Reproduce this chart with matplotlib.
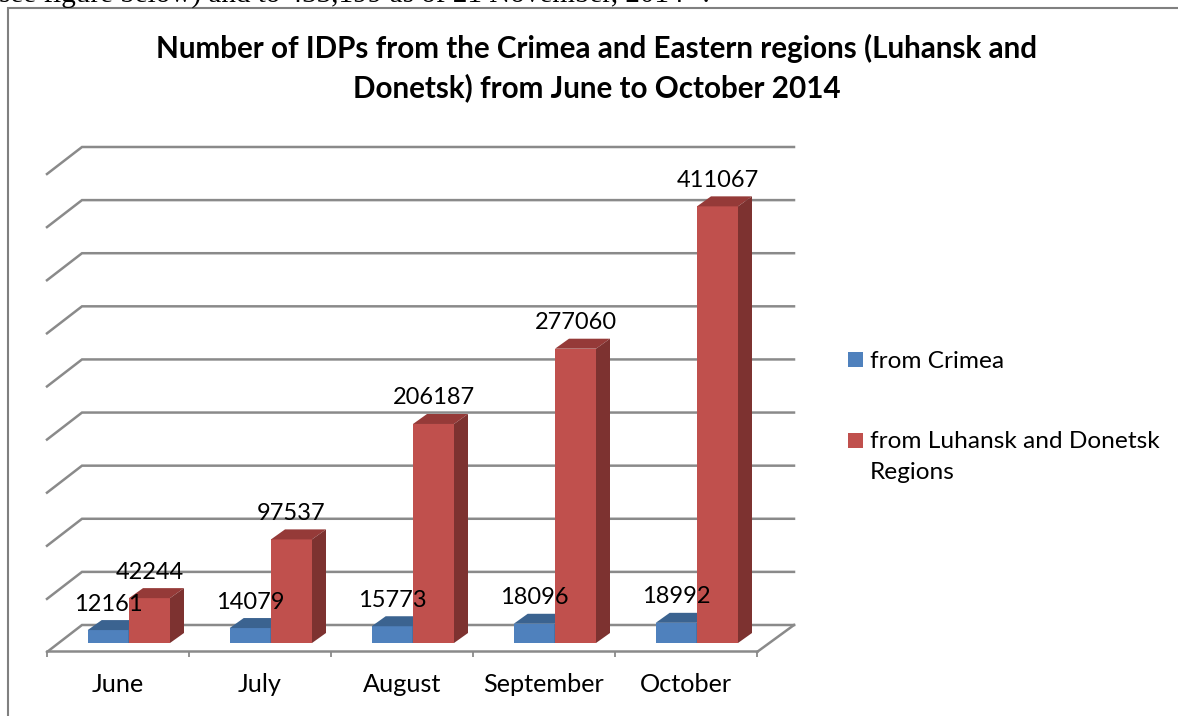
"""Number of IDPs chart with Excel-style 3D columns drawn on a flat axes."""
import matplotlib
matplotlib.use('Agg')
import matplotlib.pyplot as plt
from matplotlib.lines import Line2D
from matplotlib.patches import Rectangle

months = ['June', 'July', 'August', 'September', 'October']
from_crimea = [12161, 14079, 15773, 18096, 18992]
from_east = [42244, 97537, 206187, 277060, 411067]
grid_values = [0, 50000, 100000, 150000, 200000, 250000, 300000, 350000, 400000, 450000]
series_names = ['from Crimea', 'from Luhansk and Donetsk\nRegions']
title = ('Number of IDPs from the Crimea and Eastern regions (Luhansk and\n'
         'Donetsk) from June to October 2014')
page_text = 'see figure below) and to 433,199 as of 21 November, 2014\u00b9\u2074.'

W, H = 1178, 716
GRID_COLOR = '#8A8A8A'
BLUE = ('#4F81BD', '#3B6390', '#2F5077')
RED = ('#C0504D', '#953A38', '#7D3230')

plt.rcParams['font.family'] = ['Lato', 'DejaVu Sans']

fig = plt.figure(figsize=(W / 100, H / 100), dpi=100)


def fx(px):
    return px / W


def fy(px):
    return 1 - px / H


# one category is 142 px wide, 50000 people are 53.1 px high
ax = fig.add_axes([fx(47), fy(643), 710 / W, 478 / H])
ax.set_xlim(0, len(months))
ax.set_ylim(0, max(grid_values))
ax.patch.set_visible(False)
dx = 1 / 142
dy = 50000 / 53.1

# back wall and floor
for v in grid_values:
    ax.plot([0, 35 * dx, 747 * dx], [v - 9 * dy, v + 18 * dy, v + 18 * dy],
            color=GRID_COLOR, lw=1.8, clip_on=False, solid_joinstyle='miter', zorder=1)
ax.plot([5, 5 + 37 * dx], [-9 * dy, 18 * dy], color=GRID_COLOR, lw=1.8, clip_on=False, zorder=1)


def draw_bars(values, offset, colors):
    width = 41 * dx
    depth_x, depth_y = 14 * dx, 10 * dy
    for i, v in enumerate(values):
        x0 = i + offset
        x1 = x0 + width
        ax.bar(x0, v, width, align='edge', color=colors[0], clip_on=False, zorder=3)
        ax.fill([x0, x1, x1 + depth_x, x0 + depth_x],
                [v, v, v + depth_y, v + depth_y], color=colors[1], lw=0, clip_on=False, zorder=3)
        ax.fill([x1, x1 + depth_x, x1 + depth_x, x1],
                [0, depth_y, v + depth_y, v], color=colors[2], lw=0, clip_on=False, zorder=3)
        ax.annotate(str(v), (x0 + width / 2, v), xytext=(0, 26 * 0.72),
                    textcoords='offset points', ha='center', va='center',
                    fontsize=17, color='black', zorder=5, annotation_clip=False)


draw_bars(from_crimea, 40.7 * dx, BLUE)
draw_bars(from_east, 82 * dx, RED)

# category axis sits on the front edge of the floor
for side in ['top', 'left', 'right']:
    ax.spines[side].set_visible(False)
ax.spines['bottom'].set_position(('outward', 8 * 0.72))
ax.spines['bottom'].set_color(GRID_COLOR)
ax.spines['bottom'].set_linewidth(1.8)
ax.set_yticks([])
ax.set_xticks(range(len(months) + 1))
ax.set_xticklabels([])
ax.tick_params(axis='x', which='major', length=4.5, width=1.3, color=GRID_COLOR)
ax.set_xticks([i + 0.5 for i in range(len(months))], minor=True)
ax.set_xticklabels(months, minor=True, fontsize=18.2)
ax.tick_params(axis='x', which='minor', length=0, pad=16)

fig.text(fx(597), fy(68), title, ha='center', va='center', fontsize=21.3,
         fontweight='bold', linespacing=1.43)

# legend
fig.add_artist(Rectangle((fx(848), fy(367)), 15 / W, 15 / H, transform=fig.transFigure,
                         color=BLUE[0], lw=0))
fig.add_artist(Rectangle((fx(848), fy(448)), 15 / W, 15 / H, transform=fig.transFigure,
                         color=RED[0], lw=0))
fig.text(fx(870), fy(361), series_names[0], ha='left', va='center', fontsize=17.6)
fig.text(fx(870), fy(457), series_names[1], ha='left', va='center', fontsize=17.6, linespacing=1.55)

# chart frame and the page text above it
fig.add_artist(Line2D([fx(7.5), fx(7.5), 1], [0, fy(7.5), fy(7.5)], color='#808080', lw=1.5,
                      solid_joinstyle='miter'))
fig.text(fx(-1), fy(2.5), page_text, ha='left', va='baseline', fontsize=21,
         family=['Liberation Serif', 'DejaVu Sans'])

fig.savefig('out.png', dpi=100)
plt.close(fig)
